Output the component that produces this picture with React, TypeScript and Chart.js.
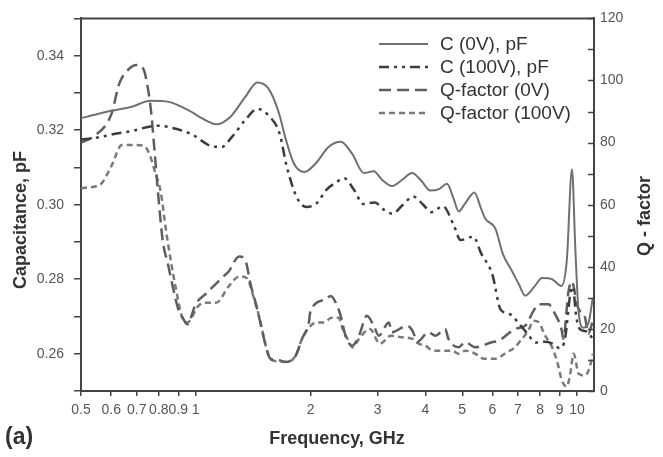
import React, { useEffect, useRef } from 'react';
import { Chart, registerables } from 'chart.js';

Chart.register(...registerables);

// ---- data (frequency in GHz) ----
const C0_F = [0.5, 0.55, 0.6, 0.68, 0.76, 0.85, 0.95, 1.07, 1.13, 1.23, 1.35, 1.45, 1.55, 1.65, 1.72, 1.81, 1.93, 2.06, 2.23, 2.4, 2.57, 2.76, 2.93, 3.08, 3.27, 3.48, 3.69, 3.9, 4.12, 4.35, 4.56, 4.75, 4.89, 5.1, 5.38, 5.6, 5.75, 6.1, 6.4, 6.75, 7.05, 7.31, 7.7, 8.1, 8.6, 9.1, 9.4, 9.7, 9.9, 10.1, 10.4, 10.7, 11.0];
const C0_V = [0.3232, 0.3243, 0.3252, 0.3263, 0.3279, 0.3276, 0.3255, 0.3225, 0.3216, 0.3235, 0.329, 0.3328, 0.3312, 0.3248, 0.3178, 0.311, 0.3088, 0.311, 0.3155, 0.3169, 0.3137, 0.3085, 0.309, 0.3067, 0.305, 0.3067, 0.3085, 0.3065, 0.3038, 0.3042, 0.3056, 0.3015, 0.2982, 0.3005, 0.3033, 0.299, 0.2962, 0.2937, 0.2866, 0.2822, 0.2785, 0.2756, 0.2778, 0.2803, 0.28, 0.2782, 0.285, 0.3095, 0.288, 0.271, 0.267, 0.268, 0.275];

const C100_F = [0.5, 0.55, 0.6, 0.68, 0.76, 0.8, 0.87, 0.98, 1.1, 1.17, 1.24, 1.35, 1.45, 1.55, 1.66, 1.73, 1.84, 1.95, 2.08, 2.2, 2.32, 2.45, 2.6, 2.75, 2.95, 3.1, 3.28, 3.48, 3.72, 3.95, 4.15, 4.45, 4.75, 4.95, 5.35, 5.6, 6.0, 6.3, 6.7, 7.0, 7.4, 7.8, 8.2, 8.6, 9.0, 9.3, 9.6, 9.75, 9.95, 10.2, 10.6, 11.0];
const C100_V = [0.3175, 0.318, 0.3188, 0.3198, 0.321, 0.3212, 0.3206, 0.3188, 0.3157, 0.3155, 0.318, 0.3228, 0.3257, 0.324, 0.319, 0.3105, 0.302, 0.2994, 0.3005, 0.304, 0.3058, 0.3071, 0.304, 0.3002, 0.3006, 0.2988, 0.2976, 0.2998, 0.3022, 0.3, 0.298, 0.2996, 0.2945, 0.2905, 0.2914, 0.287, 0.2812, 0.2719, 0.2705, 0.2684, 0.2655, 0.263, 0.2632, 0.2628, 0.2615, 0.264, 0.276, 0.278, 0.27, 0.2665, 0.266, 0.264];

const Q0_F = [0.5, 0.54, 0.6, 0.63, 0.665, 0.7, 0.73, 0.75, 0.765, 0.78, 0.8, 0.82, 0.845, 0.87, 0.9, 0.93, 0.95, 1.0, 1.07, 1.17, 1.22, 1.3, 1.35, 1.39, 1.45, 1.51, 1.57, 1.65, 1.72, 1.83, 1.9, 1.98, 2.0, 2.19, 2.26, 2.33, 2.4, 2.47, 2.57, 2.68, 2.81, 2.93, 3.02, 3.21, 3.27, 3.58, 3.72, 3.8, 4.08, 4.25, 4.51, 4.6, 4.89, 5.09, 5.41, 5.98, 6.23, 6.88, 7.31, 7.69, 7.93, 8.42, 8.67, 9.12, 9.2, 9.5, 9.68, 10.06, 10.5, 10.7, 11.0];
const Q0_V = [80, 82, 89, 99, 103.5, 105, 103.5, 97, 89, 77, 61, 48, 41, 33.7, 26.3, 23, 21.5, 28, 31.6, 36.4, 38.5, 43.3, 42, 34.8, 26.3, 16.8, 10.4, 9.9, 9.3, 11.5, 16.8, 22.1, 25.8, 29.5, 30.6, 28.4, 24.2, 17.8, 14.6, 17.8, 24.2, 21, 17.8, 22.1, 18.9, 21, 18.9, 15.7, 18.9, 17.8, 20, 16.8, 14.1, 15.7, 14.1, 15.7, 16.2, 20, 21, 25.8, 27.9, 27.9, 25.8, 19.4, 16.8, 32.1, 35.3, 26.8, 23.6, 18.4, 22.6];

const Q100_F = [0.5, 0.56, 0.6, 0.64, 0.685, 0.73, 0.755, 0.78, 0.81, 0.835, 0.86, 0.89, 0.92, 0.95, 0.98, 1.0, 1.05, 1.13, 1.22, 1.3, 1.36, 1.42, 1.48, 1.53, 1.58, 1.66, 1.74, 1.83, 1.9, 2.0, 2.08, 2.17, 2.27, 2.37, 2.43, 2.5, 2.58, 2.68, 2.86, 3.04, 3.25, 3.47, 3.7, 3.85, 4.0, 4.2, 4.7, 4.89, 5.09, 5.41, 5.7, 6.1, 6.55, 6.88, 7.1, 7.45, 7.69, 7.95, 8.2, 8.6, 8.9, 9.12, 9.4, 9.6, 9.8, 10.1, 10.5, 10.8, 11.0];
const Q100_V = [65.4, 66.4, 72.3, 79.2, 79.2, 79, 76.5, 71, 63.8, 52, 42, 32, 24, 22, 24, 26.3, 28.4, 28.4, 33.7, 36.9, 36.4, 30, 22, 14, 10, 9.5, 9.4, 11.5, 16.8, 21, 22.1, 22.1, 23.6, 23.6, 20, 16.8, 14.1, 16.8, 20, 15.2, 17.8, 17.3, 16.8, 15.2, 14.6, 13, 13, 12, 13, 12, 10.4, 10.4, 12.5, 14.1, 16.2, 19.4, 22.6, 22.1, 18.4, 14.1, 8.8, 3.5, 1.4, 5.6, 12, 5.6, 5, 7.7, 12];

const X_TICKS = [0.5, 0.6, 0.7, 0.8, 0.9, 1, 2, 3, 4, 5, 6, 7, 8, 9, 10];
const SERIES_LABELS = ['C (0V), pF', 'C (100V), pF', 'Q-factor (0V)', 'Q-factor (100V)'];
const X_TITLE = 'Frequency, GHz';
const Y_TITLE = 'Capacitance, pF';
const Y1_TITLE = 'Q - factor';
const PANEL = '(a)';

const FONT = '"Liberation Sans", Arial, sans-serif';
const COLORS = ['#707070', '#3c3c3c', '#5e5e5e', '#7a7a7a'];
const DASHES: number[][] = [[], [10, 5, 3, 5, 3, 5], [12, 6], [6, 4]];
const WIDTHS = [2, 2.5, 2.5, 2.5];
const AXIS = '#444';

function pts(f: number[], v: number[]) {
  return f.map((x, i) => ({ x, y: v[i] }));
}

const decorPlugin = {
  id: 'decor',
  afterDraw(chart: any) {
    const { ctx, chartArea } = chart;
    const { left, right, top } = chartArea;
    ctx.save();
    // top frame
    ctx.strokeStyle = AXIS;
    ctx.lineWidth = 2;
    ctx.beginPath();
    ctx.moveTo(left - 1, top);
    ctx.lineTo(right + 1, top);
    ctx.stroke();
    // right axis inward ticks
    const y1 = chart.scales.y1;
    ctx.lineWidth = 1.5;
    for (let v = 0; v <= 120; v += 10) {
      const py = Math.round(y1.getPixelForValue(v)) + 0.5;
      ctx.beginPath();
      ctx.moveTo(right - 6, py);
      ctx.lineTo(right, py);
      ctx.stroke();
    }
    // titles
    ctx.fillStyle = '#333';
    ctx.font = `bold 18px ${FONT}`;
    ctx.textAlign = 'center';
    ctx.textBaseline = 'middle';
    ctx.fillText(X_TITLE, 337, 439);
    ctx.save();
    ctx.translate(21, 220);
    ctx.rotate(-Math.PI / 2);
    ctx.fillText(Y_TITLE, 0, 0);
    ctx.restore();
    ctx.save();
    ctx.translate(645, 216);
    ctx.rotate(-Math.PI / 2);
    ctx.fillText(Y1_TITLE, 0, 0);
    ctx.restore();
    ctx.font = `bold 23px ${FONT}`;
    ctx.textAlign = 'left';
    ctx.fillText(PANEL, 5, 438);
    // legend
    const rows = [44, 67, 90, 113];
    ctx.font = `19px ${FONT}`;
    SERIES_LABELS.forEach((lab, i) => {
      ctx.strokeStyle = COLORS[i];
      ctx.lineWidth = WIDTHS[i];
      ctx.setLineDash(DASHES[i]);
      ctx.beginPath();
      ctx.moveTo(379, rows[i]);
      ctx.lineTo(428, rows[i]);
      ctx.stroke();
      ctx.setLineDash([]);
      ctx.fillStyle = '#333';
      ctx.textAlign = 'left';
      ctx.textBaseline = 'middle';
      ctx.fillText(lab, 440, rows[i] + 1);
    });
    ctx.restore();
  },
};

export default function App() {
  const ref = useRef<HTMLCanvasElement | null>(null);
  useEffect(() => {
    if (!ref.current) return;
    Chart.defaults.font.family = FONT;
    const series = [
      pts(C0_F, C0_V),
      pts(C100_F, C100_V),
      pts(Q0_F, Q0_V),
      pts(Q100_F, Q100_V),
    ];
    const chart = new Chart(ref.current, {
      type: 'line',
      data: {
        datasets: series.map((d, i) => ({
          label: SERIES_LABELS[i],
          data: d,
          yAxisID: i < 2 ? 'y' : 'y1',
          borderColor: COLORS[i],
          borderWidth: WIDTHS[i],
          borderDash: DASHES[i],
          pointRadius: 0,
          fill: false,
          cubicInterpolationMode: 'monotone' as const,
        })),
      },
      options: {
        responsive: false,
        animation: false,
        layout: { padding: { left: 0, right: 0, top: 14, bottom: 0 } },
        plugins: { legend: { display: false }, tooltip: { enabled: false } },
        scales: {
          x: {
            type: 'logarithmic',
            min: 0.5,
            max: 11.08,
            afterBuildTicks: (s: any) => {
              s.ticks = X_TICKS.map((v) => ({ value: v }));
            },
            afterFit: (s: any) => {
              s.height = 66;
            },
            ticks: {
              autoSkip: false,
              maxRotation: 0,
              minRotation: 0,
              padding: 6,
              color: '#555',
              font: { size: 14 },
              callback: (v: any) => String(v),
            },
            grid: { drawOnChartArea: false, tickLength: 5, color: AXIS, lineWidth: 1.5 },
            border: { color: AXIS, width: 2 },
          },
          y: {
            position: 'left',
            min: 0.25,
            max: 0.35,
            afterFit: (s: any) => {
              s.width = 81;
            },
            ticks: {
              stepSize: 0.01,
              padding: 10,
              color: '#555',
              font: { size: 14 },
              callback: (v: any) => {
                const k = Math.round(Number(v) * 100);
                return k % 2 === 0 ? (k / 100).toFixed(2) : '';
              },
            },
            grid: { drawOnChartArea: false, tickLength: 7, color: AXIS, lineWidth: 1.5 },
            border: { color: AXIS, width: 2 },
          },
          y1: {
            position: 'right',
            min: 0,
            max: 120,
            afterFit: (s: any) => {
              s.width = 69;
            },
            ticks: {
              stepSize: 10,
              padding: 6,
              color: '#555',
              font: { size: 14 },
              callback: (v: any) => (Math.round(Number(v)) % 20 === 0 ? String(Math.round(Number(v))) : ''),
            },
            grid: { display: false, drawTicks: false },
            border: { display: true, color: AXIS, width: 2 },
          },
        },
      } as any,
      plugins: [decorPlugin],
    });
    return () => chart.destroy();
  }, []);
  return (
    <div style={{ position: 'fixed', left: 0, top: 0, width: 663, height: 457, background: '#fff' }}>
      <canvas ref={ref} width={663} height={457} style={{ display: 'block' }} />
    </div>
  );
}
